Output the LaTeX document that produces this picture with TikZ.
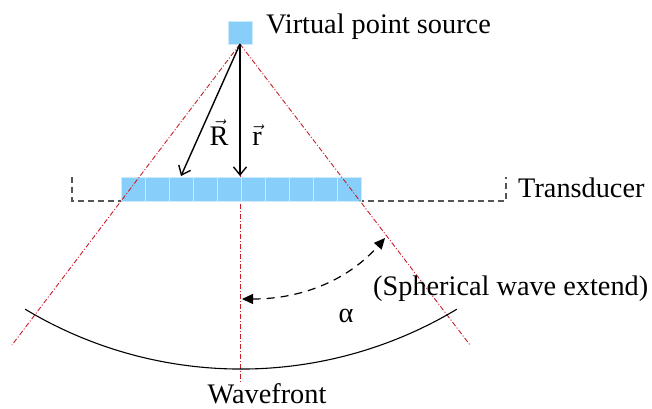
\documentclass[tikz,border=0pt]{standalone}
\usepackage{fontspec}
\usepackage{amsmath}
\setmainfont{Liberation Serif}
\usetikzlibrary{arrows.meta}
\definecolor{elemblue}{RGB}{135,206,250}
\definecolor{elemedge}{RGB}{205,234,252}
\definecolor{axisred}{RGB}{200,30,40}
\definecolor{bracketgray}{RGB}{85,85,85}
\tikzset{
  elem/.style={rectangle, draw=elemedge, fill=elemblue, line width=0.8pt,
    minimum width=24pt, minimum height=24pt, inner sep=0pt, outer sep=0pt},
  redaxis/.style={draw=axisred, line width=0.9pt, dash pattern=on 5pt off 2pt on 1pt off 2pt},
  bracketline/.style={draw=bracketgray, line width=1.3pt, dash pattern=on 6pt off 4pt},
  vecarrow/.style={draw=black, line width=1.4pt, -{Straight Barb[length=8pt,width=13pt,line width=1.4pt]}},
  dasharrow/.style={draw=black, line width=1.2pt, dash pattern=on 8pt off 6pt,
    {Triangle[length=11pt,width=10pt]}-{Triangle[length=11pt,width=10pt]}},
  wavefront/.style={draw=black, line width=1.1pt},
  txt/.style={inner sep=0pt, anchor=base west}
}
\begin{document}
\begin{tikzpicture}[x=1pt,y=1pt,font=\fontsize{28.3}{34}\selectfont]
\useasboundingbox (0,0) rectangle (652,-408);
% transducer bracket
\coordinate (brTL) at (72,-177);
\coordinate (brBL) at (72,-201);
\coordinate (brBR) at (506,-201);
\coordinate (brTR) at (506,-177);
\draw[bracketline] (brTL) -- (brBL) -- (brBR) -- (brTR);
% source
\node[elem, minimum height=23pt] (src) at (240,-32.5) {};
\coordinate (apex) at (240,-44);
\coordinate (cend) at (240,-382);
\coordinate (lend) at (12,-345);
\coordinate (rend) at (470,-345);
% centre axis
\draw[redaxis] (apex) -- (cend);
% elements
\foreach \i in {0,...,9}{
  \node[elem] (e\i) at ({133+24*\i},-189) {};
}
% side axes
\draw[redaxis] (apex) -- (lend);
\draw[redaxis] (apex) -- (rend);
% vectors
\coordinate (Rtip) at (181,-176);
\coordinate (rtip) at (240,-176);
\draw[vecarrow] (apex) -- (Rtip);
\draw[vecarrow] (apex) -- (rtip);
\node[inner sep=0pt, anchor=base] (Rlab) at (219,-145) {$\vec{\text{R}}$};
\node[inner sep=0pt, anchor=base] (rlab) at (257,-145) {$\vec{\text{r}}$};
% wavefront
\coordinate (wl) at (25.2,-309.2);
\draw[wavefront] (wl) arc[start angle=239, end angle=301, radius=419];
% angle arrow
\coordinate (angL) at (242,-299);
\coordinate (angU) at (385,-238);
\draw[dasharrow] (angL) .. controls (305,-299) and (350,-278) .. (angU);
% texts
\node[txt] (srclab) at (266,-33) {Virtual point source};
\node[txt] (trlab) at (518,-197) {Transducer};
\node[txt] (sphlab) at (373,-295) {(Spherical wave extend)};
\node[inner sep=0pt, anchor=base] (alab) at (346,-322) {α};
\node[inner sep=0pt, anchor=base] (wflab) at (267,-403) {Wavefront};
\end{tikzpicture}
\end{document}
